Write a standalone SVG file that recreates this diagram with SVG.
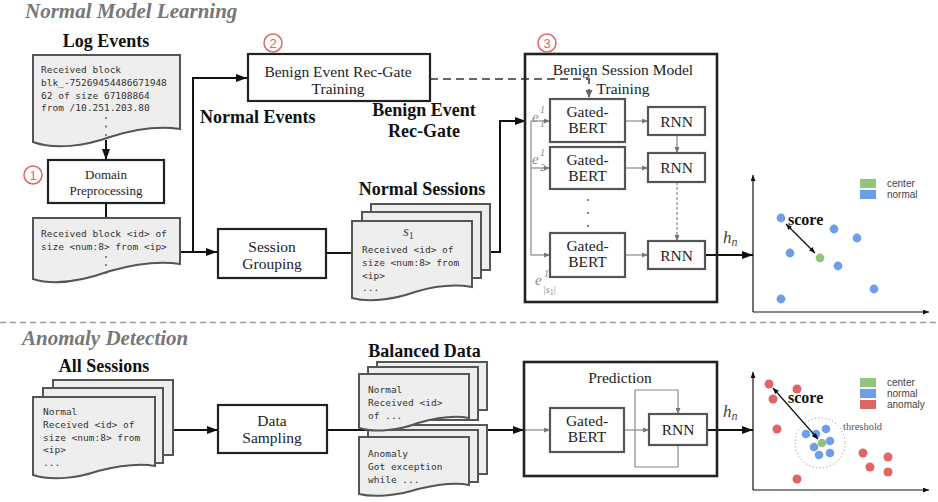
<svg xmlns="http://www.w3.org/2000/svg" width="938" height="502" viewBox="0 0 938 502">
  <defs>
    <style>
      .title { font-family: "Liberation Serif", serif; font-style: italic; font-weight: bold; font-size: 21px; fill: #777; }
      .lbl { font-family: "Liberation Serif", serif; font-weight: bold; font-size: 18px; fill: #111; }
      .box { fill: #fff; stroke: #222; stroke-width: 2.2; }
      .big { fill: none; stroke: #222; stroke-width: 2.6; }
      .inner { fill: #fff; stroke: #555; stroke-width: 2.2; }
      .doc { fill: #eeeeee; stroke: #555; stroke-width: 2; }
      .bt { font-family: "Liberation Serif", serif; font-size: 15.5px; fill: #222; text-anchor: middle; }
      .st { font-family: "Liberation Serif", serif; font-size: 13px; fill: #222; text-anchor: middle; }
      .mono { font-family: "DejaVu Sans Mono", monospace; font-size: 9.5px; fill: #333; }
      .conn { fill: none; stroke: #111; stroke-width: 2; }
      .thin { fill: none; stroke: #888; stroke-width: 1.2; }
      .dash { fill: none; stroke: #666; stroke-width: 2; stroke-dasharray: 8 5; }
      .axis { fill: none; stroke: #111; stroke-width: 1.2; }
      .num { fill: none; stroke: #e06666; stroke-width: 1.5; }
      .numt { font-family: "Liberation Sans", sans-serif; font-size: 13px; fill: #e06666; text-anchor: middle; }
      .ev { font-family: "Liberation Serif", serif; font-style: italic; fill: #888; }
      .hn { font-family: "Liberation Serif", serif; font-style: italic; fill: #444; }
      .leg { font-family: "Liberation Sans", sans-serif; font-size: 10px; fill: #444; }
      .score { font-family: "Liberation Serif", serif; font-weight: bold; font-size: 16px; fill: #111; }
      .blue { fill: #6d9eeb; }
      .green { fill: #93c47d; }
      .red { fill: #e06666; }
      .dot { fill: #555; }
    </style>
    <marker id="ah" viewBox="0 0 11 8" refX="11" refY="4" markerWidth="11" markerHeight="8" markerUnits="userSpaceOnUse" orient="auto">
      <path d="M0,0 L11,4 L0,8 z" fill="#111"/>
    </marker>
    <marker id="ahg" viewBox="0 0 6 5" refX="6" refY="2.5" markerWidth="6" markerHeight="5" markerUnits="userSpaceOnUse" orient="auto">
      <path d="M0,0 L6,2.5 L0,5 z" fill="#777"/>
    </marker>
    <marker id="ahd" viewBox="0 0 8 7" refX="8" refY="3.5" markerWidth="8" markerHeight="7" markerUnits="userSpaceOnUse" orient="auto">
      <path d="M0,0 L8,3.5 L0,7 z" fill="#666"/>
    </marker>
    <marker id="ahs" viewBox="0 0 6 5" refX="6" refY="2.5" markerWidth="6" markerHeight="5" markerUnits="userSpaceOnUse" orient="auto-start-reverse">
      <path d="M0,0 L6,2.5 L0,5 z" fill="#111"/>
    </marker>
  </defs>

  <rect width="938" height="502" fill="#fff"/>

  <!-- section headings -->
  <text class="title" x="25" y="18">Normal Model Learning</text>
  <text class="title" x="22" y="345">Anomaly Detection</text>
  <line x1="0" y1="322.5" x2="938" y2="322.5" stroke="#999" stroke-width="1.5" stroke-dasharray="6 4"/>

  <!-- connectors -->
  <g id="connectors">
    <line class="conn" x1="106" y1="140" x2="106" y2="160" marker-end="url(#ah)"/>
    <line class="conn" x1="106" y1="203" x2="106" y2="218"/>
    <path class="conn" d="M180,252 H193 V78 H247" marker-end="url(#ah)"/>
    <line class="conn" x1="193" y1="252" x2="217" y2="252" marker-end="url(#ah)"/>
    <line class="conn" x1="326" y1="253" x2="352" y2="253"/>
    <path class="conn" d="M490,252 H500 V121 H526" marker-end="url(#ah)"/>
    <path class="dash" d="M430,79 H589 V98" marker-end="url(#ahd)"/>
    <!-- inside session model -->
    <line class="thin" x1="531" y1="121" x2="531" y2="255"/>
    <line class="thin" x1="531" y1="121" x2="550" y2="121" marker-end="url(#ahg)"/>
    <line class="thin" x1="531" y1="168" x2="550" y2="168" marker-end="url(#ahg)"/>
    <line class="thin" x1="531" y1="255" x2="550" y2="255" marker-end="url(#ahg)"/>
    <line class="thin" x1="625" y1="121" x2="648" y2="121" marker-end="url(#ahg)"/>
    <line class="thin" x1="625" y1="168" x2="648" y2="168" marker-end="url(#ahg)"/>
    <line class="thin" x1="625" y1="255" x2="648" y2="255" marker-end="url(#ahg)"/>
    <line class="thin" x1="677" y1="135" x2="677" y2="153" marker-end="url(#ahg)"/>
    <line class="thin" x1="677" y1="182" x2="677" y2="241" stroke-dasharray="3 2" marker-end="url(#ahg)"/>
    <line class="conn" x1="705" y1="255" x2="753" y2="255" stroke-width="3" marker-end="url(#ah)"/>
    <!-- detection path -->
    <line class="conn" x1="173" y1="430" x2="218" y2="430" marker-end="url(#ah)"/>
    <line class="conn" x1="327" y1="430" x2="524" y2="430" marker-end="url(#ah)"/>
    <line class="thin" x1="524" y1="430" x2="550" y2="430" marker-end="url(#ahg)"/>
    <line class="thin" x1="624" y1="430" x2="649" y2="430" marker-end="url(#ahg)"/>
    <path class="thin" d="M678,445 V467 H635 V390 H678 V414" marker-end="url(#ahg)"/>
    <line class="conn" x1="707" y1="430" x2="753" y2="430" stroke-width="3" marker-end="url(#ah)"/>
  </g>

  <!-- log events -->
  <g id="log-events">
    <text class="lbl" x="106" y="47" text-anchor="middle">Log Events</text>
    <path class="doc" d="M33,55 H180 V129 C160,126 135,129 110,137 C85,146 55,150 33,142 Z"/>
    <text class="mono" x="41" y="73">Received block</text>
    <text class="mono" x="41" y="86">blk_-75269454486671948</text>
    <text class="mono" x="41" y="98.5">62 of size 67108864</text>
    <text class="mono" x="41" y="111">from /10.251.203.80</text>
    <circle class="dot" cx="106" cy="118" r="0.9"/>
    <circle class="dot" cx="106" cy="126.5" r="0.9"/>
    <circle class="dot" cx="106" cy="135" r="0.9"/>
  </g>

  <!-- domain preprocessing -->
  <g id="domain-preprocessing">
    <rect class="box" x="48" y="160" width="116" height="43"/>
    <text class="st" x="106" y="179">Domain</text>
    <text class="st" x="106" y="195">Preprocessing</text>
    <circle class="num" cx="33" cy="175" r="9"/>
    <text class="numt" x="33" y="179.5">1</text>
  </g>

  <!-- parsed templates -->
  <g id="templates">
    <path class="doc" d="M33,218 H180 V264 C160,261 135,264 110,271 C85,280 55,286 33,279 Z"/>
    <text class="mono" x="41" y="236.5">Received block &lt;id&gt; of</text>
    <text class="mono" x="41" y="250">size &lt;num:8&gt; from &lt;ip&gt;</text>
    <circle class="dot" cx="106" cy="257" r="0.9"/>
    <circle class="dot" cx="106" cy="265" r="0.9"/>
    <circle class="dot" cx="106" cy="273" r="0.9"/>
  </g>

  <!-- rec-gate training -->
  <g id="recgate-training">
    <rect class="box" x="248" y="54" width="182" height="47"/>
    <text class="bt" x="338" y="77">Benign Event Rec-Gate</text>
    <text class="bt" x="338" y="94">Training</text>
    <circle class="num" cx="273" cy="43" r="9"/>
    <text class="numt" x="273" y="47.5">2</text>
  </g>
  <text class="lbl" x="200" y="123">Normal Events</text>
  <text class="lbl" x="424" y="116" text-anchor="middle">Benign Event</text>
  <text class="lbl" x="424" y="137" text-anchor="middle">Rec-Gate</text>

  <!-- session grouping -->
  <g id="session-grouping">
    <rect class="box" x="218" y="229" width="108" height="49"/>
    <text class="bt" x="272" y="252">Session</text>
    <text class="bt" x="272" y="269">Grouping</text>
  </g>

  <!-- normal sessions -->
  <g id="normal-sessions">
    <text class="lbl" x="422" y="195" text-anchor="middle">Normal Sessions</text>
    <rect class="doc" x="371" y="204" width="119" height="66"/>
    <rect class="doc" x="362" y="212" width="119" height="66"/>
    <path class="doc" d="M352,221 H472 V287 C455,284 435,286 415,292 C395,299 370,303 352,298 Z"/>
    <text class="hn" x="403" y="236" font-size="15">s<tspan font-size="10" font-style="normal" dy="3">1</tspan></text>
    <text class="mono" x="362" y="253">Received &lt;id&gt; of</text>
    <text class="mono" x="362" y="266">size &lt;num:8&gt; from</text>
    <text class="mono" x="362" y="278.5">&lt;ip&gt;</text>
    <text class="mono" x="362" y="291">...</text>
  </g>

  <!-- session model training -->
  <g id="session-model">
    <rect class="big" x="525" y="54" width="192" height="248"/>
    <text class="bt" x="623" y="75">Benign Session Model</text>
    <text class="bt" x="623" y="94">Training</text>
    <circle class="num" cx="547" cy="43" r="9"/>
    <text class="numt" x="547" y="47.5">3</text>
    <rect class="inner" x="550" y="99" width="75" height="43"/>
    <text class="bt" x="587.5" y="117">Gated-</text>
    <text class="bt" x="587.5" y="133">BERT</text>
    <rect class="inner" x="550" y="147" width="75" height="42"/>
    <text class="bt" x="587.5" y="165">Gated-</text>
    <text class="bt" x="587.5" y="181">BERT</text>
    <rect class="inner" x="550" y="233" width="75" height="44"/>
    <text class="bt" x="587.5" y="251">Gated-</text>
    <text class="bt" x="587.5" y="267">BERT</text>
    <circle class="dot" cx="588" cy="200" r="1"/>
    <circle class="dot" cx="588" cy="213" r="1"/>
    <circle class="dot" cx="588" cy="226" r="1"/>
    <rect class="inner" x="648" y="107" width="57" height="28"/>
    <text class="bt" x="676.5" y="126.5">RNN</text>
    <rect class="inner" x="648" y="153" width="57" height="29"/>
    <text class="bt" x="676.5" y="173">RNN</text>
    <rect class="inner" x="648" y="241" width="57" height="28"/>
    <text class="bt" x="676.5" y="260.5">RNN</text>
    <text class="ev" x="532" y="122" font-size="15">e</text>
    <text class="ev" x="540" y="113" font-size="10" font-style="normal">1</text>
    <text class="ev" x="540" y="127" font-size="10" font-style="normal">1</text>
    <text class="ev" x="532" y="164" font-size="15">e</text>
    <text class="ev" x="540" y="156" font-size="10" font-style="normal">1</text>
    <text class="ev" x="540" y="171" font-size="10" font-style="normal">2</text>
    <text class="ev" x="535" y="285" font-size="15">e</text>
    <text class="ev" x="544" y="277" font-size="10" font-style="normal">1</text>
    <text class="ev" x="543" y="293" font-size="10">|s<tspan font-size="8" font-style="normal" dy="1.5">1</tspan><tspan dy="-1.5" font-style="normal">|</tspan></text>
  </g>
  <text class="hn" x="723" y="243" font-size="17">h<tspan font-size="12" dy="3">n</tspan></text>

  <!-- training embedding space -->
  <g id="plot-train">
    <line class="axis" x1="753" y1="312" x2="753" y2="175" marker-end="url(#ahs)"/>
    <line class="axis" x1="753" y1="312" x2="929" y2="312" marker-end="url(#ahs)"/>
    <rect class="green" x="860" y="179" width="16" height="9"/>
    <rect class="blue" x="860" y="190" width="16" height="9"/>
    <text class="leg" x="887" y="187">center</text>
    <text class="leg" x="887" y="198">normal</text>
    <circle class="blue" cx="781" cy="218" r="4.4"/>
    <circle class="blue" cx="834" cy="229" r="4.4"/>
    <circle class="blue" cx="857" cy="238" r="4.4"/>
    <circle class="blue" cx="790" cy="253" r="4.4"/>
    <circle class="blue" cx="838" cy="266" r="4.4"/>
    <circle class="blue" cx="874" cy="289" r="4.4"/>
    <circle class="blue" cx="781" cy="299" r="4.4"/>
    <circle class="green" cx="820" cy="258" r="4.4"/>
    <line class="axis" x1="786" y1="224" x2="815" y2="253" marker-start="url(#ahs)" marker-end="url(#ahs)"/>
    <text class="score" x="788" y="225">score</text>
  </g>

  <!-- all sessions -->
  <g id="all-sessions">
    <text class="lbl" x="104" y="372" text-anchor="middle">All Sessions</text>
    <rect class="doc" x="53" y="380" width="120" height="75"/>
    <rect class="doc" x="43" y="388" width="120" height="75"/>
    <path class="doc" d="M33,397 H155 V466 C138,463 118,466 98,471 C78,478 52,481 33,475 Z"/>
    <text class="mono" x="43" y="415">Normal</text>
    <text class="mono" x="43" y="428">Received &lt;id&gt; of</text>
    <text class="mono" x="43" y="440.5">size &lt;num:8&gt; from</text>
    <text class="mono" x="43" y="453">&lt;ip&gt;</text>
    <text class="mono" x="43" y="466">...</text>
  </g>

  <!-- data sampling -->
  <g id="data-sampling">
    <rect class="box" x="218" y="405" width="109" height="48"/>
    <text class="bt" x="272" y="426">Data</text>
    <text class="bt" x="272" y="443">Sampling</text>
  </g>

  <!-- balanced data -->
  <g id="balanced-data">
    <text class="lbl" x="424.5" y="357" text-anchor="middle">Balanced Data</text>
    <rect class="doc" x="377" y="425" width="110" height="49"/>
    <rect class="doc" x="368" y="430" width="110" height="52"/>
    <path class="doc" d="M359,437 H469 V485 C455,482 435,485 418,489 C400,495 375,498 359,494 Z"/>
    <text class="mono" x="368" y="457">Anomaly</text>
    <text class="mono" x="368" y="470">Got exception</text>
    <text class="mono" x="368" y="482.5">while ...</text>
    <rect class="doc" x="377" y="362" width="110" height="48"/>
    <rect class="doc" x="368" y="367" width="110" height="53"/>
    <path class="doc" d="M359,374 H469 V418 C455,415 435,418 418,423 C400,430 375,433 359,428 Z"/>
    <text class="mono" x="368" y="393">Normal</text>
    <text class="mono" x="368" y="406">Received &lt;id&gt;</text>
    <text class="mono" x="368" y="418.5">of ...</text>
  </g>

  <!-- prediction -->
  <g id="prediction">
    <rect class="big" x="524" y="362" width="193" height="114"/>
    <text class="bt" x="620" y="383">Prediction</text>
    <rect class="inner" x="550" y="408" width="74" height="44"/>
    <text class="bt" x="587" y="426">Gated-</text>
    <text class="bt" x="587" y="442">BERT</text>
    <rect class="inner" x="649" y="414" width="58" height="31"/>
    <text class="bt" x="678" y="435">RNN</text>
  </g>
  <text class="hn" x="723" y="417" font-size="17">h<tspan font-size="12" dy="3">n</tspan></text>

  <!-- detection embedding space -->
  <g id="plot-detect">
    <line class="axis" x1="753" y1="490" x2="753" y2="372" marker-end="url(#ahs)"/>
    <line class="axis" x1="753" y1="490" x2="929" y2="490" marker-end="url(#ahs)"/>
    <rect class="green" x="860" y="378" width="16" height="9"/>
    <rect class="blue" x="860" y="389" width="16" height="9"/>
    <rect class="red" x="860" y="400" width="16" height="9"/>
    <text class="leg" x="887" y="386">center</text>
    <text class="leg" x="887" y="397">normal</text>
    <text class="leg" x="887" y="408">anomaly</text>
    <circle cx="820" cy="443" r="25" fill="none" stroke="#888" stroke-width="1" stroke-dasharray="1 2.5"/>
    <text x="843" y="430" font-family="Liberation Serif, serif" font-size="10.5" fill="#555">threshold</text>
    <circle class="red" cx="769" cy="384" r="4.5"/>
    <circle class="red" cx="797" cy="389" r="4.5"/>
    <circle class="red" cx="773" cy="399" r="4.5"/>
    <circle class="red" cx="777" cy="429" r="4.5"/>
    <circle class="red" cx="863" cy="453" r="4.5"/>
    <circle class="red" cx="888" cy="457" r="4.5"/>
    <circle class="red" cx="870" cy="467" r="4.5"/>
    <circle class="red" cx="888" cy="472" r="4.5"/>
    <circle class="red" cx="797" cy="479" r="4.5"/>
    <circle class="blue" cx="806" cy="434" r="4.3"/>
    <circle class="blue" cx="816" cy="434" r="4.3"/>
    <circle class="blue" cx="826" cy="429" r="4.3"/>
    <circle class="blue" cx="830" cy="441" r="4.3"/>
    <circle class="blue" cx="814" cy="447" r="4.3"/>
    <circle class="blue" cx="819" cy="455" r="4.3"/>
    <circle class="blue" cx="830" cy="453" r="4.3"/>
    <circle class="green" cx="822" cy="443" r="4.3"/>
    <line class="axis" x1="773" y1="388" x2="818" y2="439" marker-start="url(#ahs)" marker-end="url(#ahs)"/>
    <text class="score" x="788" y="403">score</text>
  </g>
</svg>
